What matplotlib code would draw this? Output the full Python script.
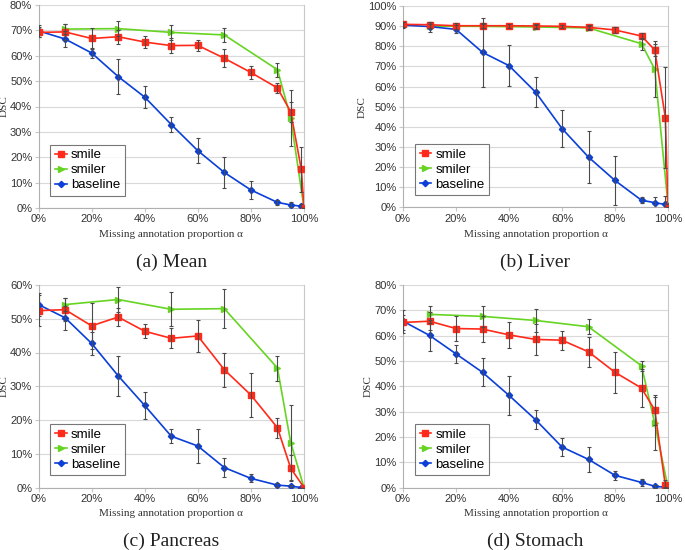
import matplotlib
matplotlib.use("Agg")
import matplotlib.pyplot as plt
from matplotlib.ticker import FuncFormatter, MultipleLocator

# ---------------- data ----------------
x_smile_a = [0, 10, 20, 30, 40, 50, 60, 70, 80, 90, 95, 99, 100]
x_smile_c = [0, 10, 20, 30, 40, 50, 60, 70, 80, 90, 95, 100]
x_smiler = [10, 30, 50, 70, 90, 95, 100]
x_base = [0, 10, 20, 30, 40, 50, 60, 70, 80, 90, 95, 99]

mean_smile = [69.2, 69.4, 66.8, 67.5, 65.4, 64.0, 64.1, 59.0, 53.4, 47.3, 37.9, 15.2, 0.0]
mean_smile_err = [2, 3, 4, 2.8, 2.3, 3, 2.3, 3.5, 2.6, 1.8, 4, 9, 0]
mean_smiler = [70.5, 70.7, 69.2, 68.2, 54.5, 35.5, 0.0]
mean_smiler_err = [2, 3, 3, 2.6, 2.7, 11, 0]
mean_base = [69.8, 66.6, 61.1, 51.8, 43.7, 32.9, 22.6, 14.0, 7.1, 2.2, 1.2, 0.7]
mean_base_err = [2.5, 3.3, 1.8, 7, 4.3, 3, 4.8, 6, 3.5, 1, 1, 1]

liver_smile = [90.9, 90.7, 90.2, 90.2, 90.2, 90.1, 89.9, 89.4, 88.1, 85.1, 78.2, 44.6, 0.0]
liver_smile_err = [1.2, 1.5, 1.5, 1.2, 1, 1, 0.8, 1, 1.5, 1.5, 3, 25, 0]
liver_smiler = [90.0, 89.9, 89.6, 89.1, 81.3, 68.6, 1.5]
liver_smiler_err = [1, 1, 1, 1, 3, 14, 0]
liver_base = [90.5, 89.8, 88.4, 77.0, 70.4, 57.3, 39.2, 25.0, 13.4, 3.6, 2.4, 1.5]
liver_base_err = [1.5, 2.5, 2, 17, 10, 7.3, 9, 13, 12, 1.5, 3, 4]

panc_smile = [52.4, 52.7, 47.9, 50.5, 46.3, 44.2, 44.9, 34.9, 27.4, 17.7, 5.7, 0.0]
panc_smile_err = [4.5, 3.5, 6.8, 2.7, 2, 3, 4.8, 5, 6.5, 3, 3.8, 0]
panc_smiler = [54.2, 55.7, 52.8, 53.0, 35.4, 13.3, 0.0]
panc_smiler_err = [2, 3.7, 5, 5.7, 3.7, 11, 0]
panc_base = [54.2, 50.3, 42.7, 33.1, 24.3, 15.2, 12.3, 5.9, 2.7, 0.7, 0.4, 0.0]
panc_base_err = [3.5, 3.5, 3.3, 5.9, 4, 2, 5, 2.8, 1.2, 0.5, 0.3, 0]

stom_smile = [65.2, 65.7, 62.8, 62.6, 60.3, 58.5, 58.2, 53.6, 45.5, 39.3, 30.6, 0.8, 0.0]
stom_smile_err = [3, 3.5, 5, 5, 5, 6, 3.8, 6, 8, 7.5, 6, 2, 0]
stom_smiler = [68.4, 67.6, 66.0, 63.5, 48.1, 25.3, 0.0]
stom_smiler_err = [3.5, 4, 4.5, 3, 2, 10.6, 0]
stom_base = [65.7, 60.1, 52.8, 45.5, 36.4, 26.8, 16.0, 11.1, 4.8, 2.0, 0.5, 0.1]
stom_base_err = [4.5, 6, 3.5, 5.5, 7.7, 3.8, 3.5, 5, 1.8, 1.5, 0.5, 0.2]

captions = ["(a) Mean", "(b) Liver", "(c) Pancreas", "(d) Stomach"]
series_names = ["smile", "smiler", "baseline"]
ymaxes = [80, 100, 60, 80]

panels = [
    (x_smile_a, mean_smile, mean_smile_err, mean_smiler, mean_smiler_err, mean_base, mean_base_err),
    (x_smile_a, liver_smile, liver_smile_err, liver_smiler, liver_smiler_err, liver_base, liver_base_err),
    (x_smile_c, panc_smile, panc_smile_err, panc_smiler, panc_smiler_err, panc_base, panc_base_err),
    (x_smile_a, stom_smile, stom_smile_err, stom_smiler, stom_smiler_err, stom_base, stom_base_err),
]

# ---------------- style ----------------
RED = "#ff2a1a"
GREEN = "#66d422"
BLUE = "#0a3fd8"
ECOL = "#4a4a4a"
SANS = ["Liberation Sans", "DejaVu Sans"]
SERIF = ["Liberation Serif", "DejaVu Serif"]

fig = plt.figure(figsize=(6.85, 5.5), dpi=100)
W, H = 685, 550
# axes boxes in pixel coords: left, right, top, bottom
boxes = [(38.5, 304, 5, 208), (403, 668, 6, 207.5), (38.5, 304, 285, 487.5), (403, 668, 285, 487.5)]
cap_y = [262, 262, 541, 541]
xlab_y = [234, 234, 513, 513]

pct = FuncFormatter(lambda v, p: f"{int(round(v))}%")

for i, (box, data) in enumerate(zip(boxes, panels)):
    l, r, t, b = box
    ax = fig.add_axes([l / W, 1 - b / H, (r - l) / W, (b - t) / H])
    xs, s, se, sr, sre, bs, bse = data
    ekw = dict(fmt="none", ecolor=ECOL, elinewidth=0.8, capsize=1.5, capthick=0.8, zorder=4)
    ax.errorbar(xs, s, yerr=se, **ekw)
    ax.errorbar(x_smiler, sr, yerr=sre, **ekw)
    ax.errorbar(x_base, bs, yerr=bse, **ekw)
    ax.plot(x_smiler, sr, color=GREEN, lw=1.2, marker=">", ms=4.8, mec=GREEN, label="smiler", zorder=3)
    ax.plot(x_base, bs, color=BLUE, lw=1.2, marker="D", ms=3.2, mec=BLUE, label="baseline", zorder=3)
    ax.plot(xs, s, color=RED, lw=1.2, marker="s", ms=5, mec=RED, label="smile", zorder=3)

    ax.set_xlim(0, 100)
    ax.set_ylim(0, ymaxes[i])
    ax.xaxis.set_major_locator(MultipleLocator(20))
    ax.yaxis.set_major_locator(MultipleLocator(10))
    ax.xaxis.set_major_formatter(pct)
    ax.yaxis.set_major_formatter(pct)
    ax.grid(axis="y", color="#d9d9d9", lw=0.8)
    ax.set_axisbelow(True)
    for sp in ax.spines.values():
        sp.set_color("#c8c8c8")
        sp.set_linewidth(0.8)
    ax.spines["top"].set_visible(False)
    ax.tick_params(axis="both", length=3, width=0.8, color="#c8c8c8", labelsize=8, pad=1.5)
    for lab in ax.get_xticklabels() + ax.get_yticklabels():
        lab.set_family(SANS)
        lab.set_color("#333333")
    ax.set_ylabel("DSC", family=SERIF, fontsize=8, color="#333333", labelpad=1)
    for sp in ["left", "bottom"]:
        ax.spines[sp].set_color("#b0b0b0")

    h, lb = ax.get_legend_handles_labels()
    order = [lb.index(n) for n in series_names]
    leg = ax.legend([h[k] for k in order], [lb[k] for k in order], loc="lower left",
                    bbox_to_anchor=(0.045, 0.06), prop={"family": SANS, "size": 9.5},
                    frameon=True, fancybox=False, handlelength=0.9, handletextpad=0.3,
                    labelspacing=0.2, borderpad=0.35, borderaxespad=0)
    leg.get_frame().set_edgecolor("#555555")
    leg.get_frame().set_linewidth(0.8)

    cx = (l + r) / 2
    fig.text(cx / W, 1 - xlab_y[i] / H, "Missing annotation proportion \u03b1", family=SERIF,
             fontsize=8, color="#333333", ha="center", va="center")
    fig.text(cx / W, 1 - cap_y[i] / H, captions[i], family=SERIF, fontsize=14,
             color="#222222", ha="center", va="center")

fig.savefig("out.png", dpi=100)
